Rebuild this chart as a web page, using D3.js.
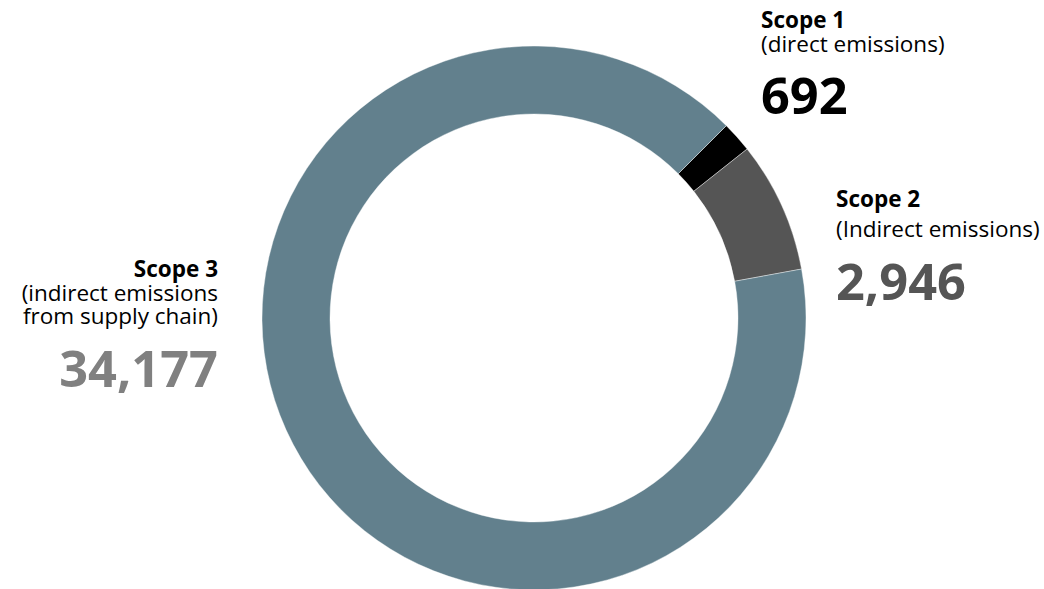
<!DOCTYPE html>
<html>
<head>
<meta charset="utf-8">
<script src="https://cdn.jsdelivr.net/npm/d3@7"></script>
<style>
  body { margin: 0; background: #fff; }
  svg text { font-family: "Open Sans", "Noto Sans", sans-serif; }
</style>
</head>
<body>
<svg id="chart" width="1044" height="589"></svg>
<script>
// data
const scopes = ['Scope 1', 'Scope 2', 'Scope 3'];
const emissions = [692, 2946, 34177];
const subtitles = [['(direct emissions)'], ['(Indirect emissions)'], ['(indirect emissions', 'from supply chain)']];
const sliceColors = ['#000000', '#555555', '#62808d'];
const numberColors = ['#000000', '#555555', '#808080'];

const svg = d3.select('#chart');
const cx = 534, cy = 318;
const outerR = 272, innerR = 204;

const pie = d3.pie()
    .sort(null)
    .startAngle(Math.PI / 4)
    .endAngle(Math.PI / 4 + 2 * Math.PI)
    .value(d => d);

const arc = d3.arc().innerRadius(innerR).outerRadius(outerR);

const g = svg.append('g').attr('transform', `translate(${cx},${cy})`);
g.selectAll('path')
    .data(pie(emissions))
    .join('path')
    .attr('d', arc)
    .attr('fill', (d, i) => sliceColors[i])
    .attr('stroke', '#fff')
    .attr('stroke-width', 0.4);

// label positions
const labelPos = [
  {x: 761, y: 28, anchor: 'start', numY: 114, gap: [24]},
  {x: 836, y: 207, anchor: 'start', numY: 300, gap: [30]},
  {x: 218, y: 277, anchor: 'end', numY: 387, gap: [24, 23]}
];

const fmt = d3.format(',');

labelPos.forEach((p, i) => {
  const t = svg.append('text')
      .attr('x', p.x).attr('y', p.y)
      .attr('text-anchor', p.anchor)
      .attr('fill', '#000');
  t.append('tspan')
      .attr('x', p.x)
      .attr('font-size', 22.5).attr('font-weight', 700)
      .text(scopes[i]);
  subtitles[i].forEach((s, j) => {
    t.append('tspan')
        .attr('x', p.x).attr('dy', p.gap[j])
        .attr('font-size', 22.5)
        .text(s);
  });
  svg.append('text')
      .attr('x', p.x).attr('y', p.numY)
      .attr('text-anchor', p.anchor)
      .attr('font-size', 50.5).attr('font-weight', 700)
      .attr('fill', numberColors[i])
      .text(fmt(emissions[i]));
});
</script>
</body>
</html>
